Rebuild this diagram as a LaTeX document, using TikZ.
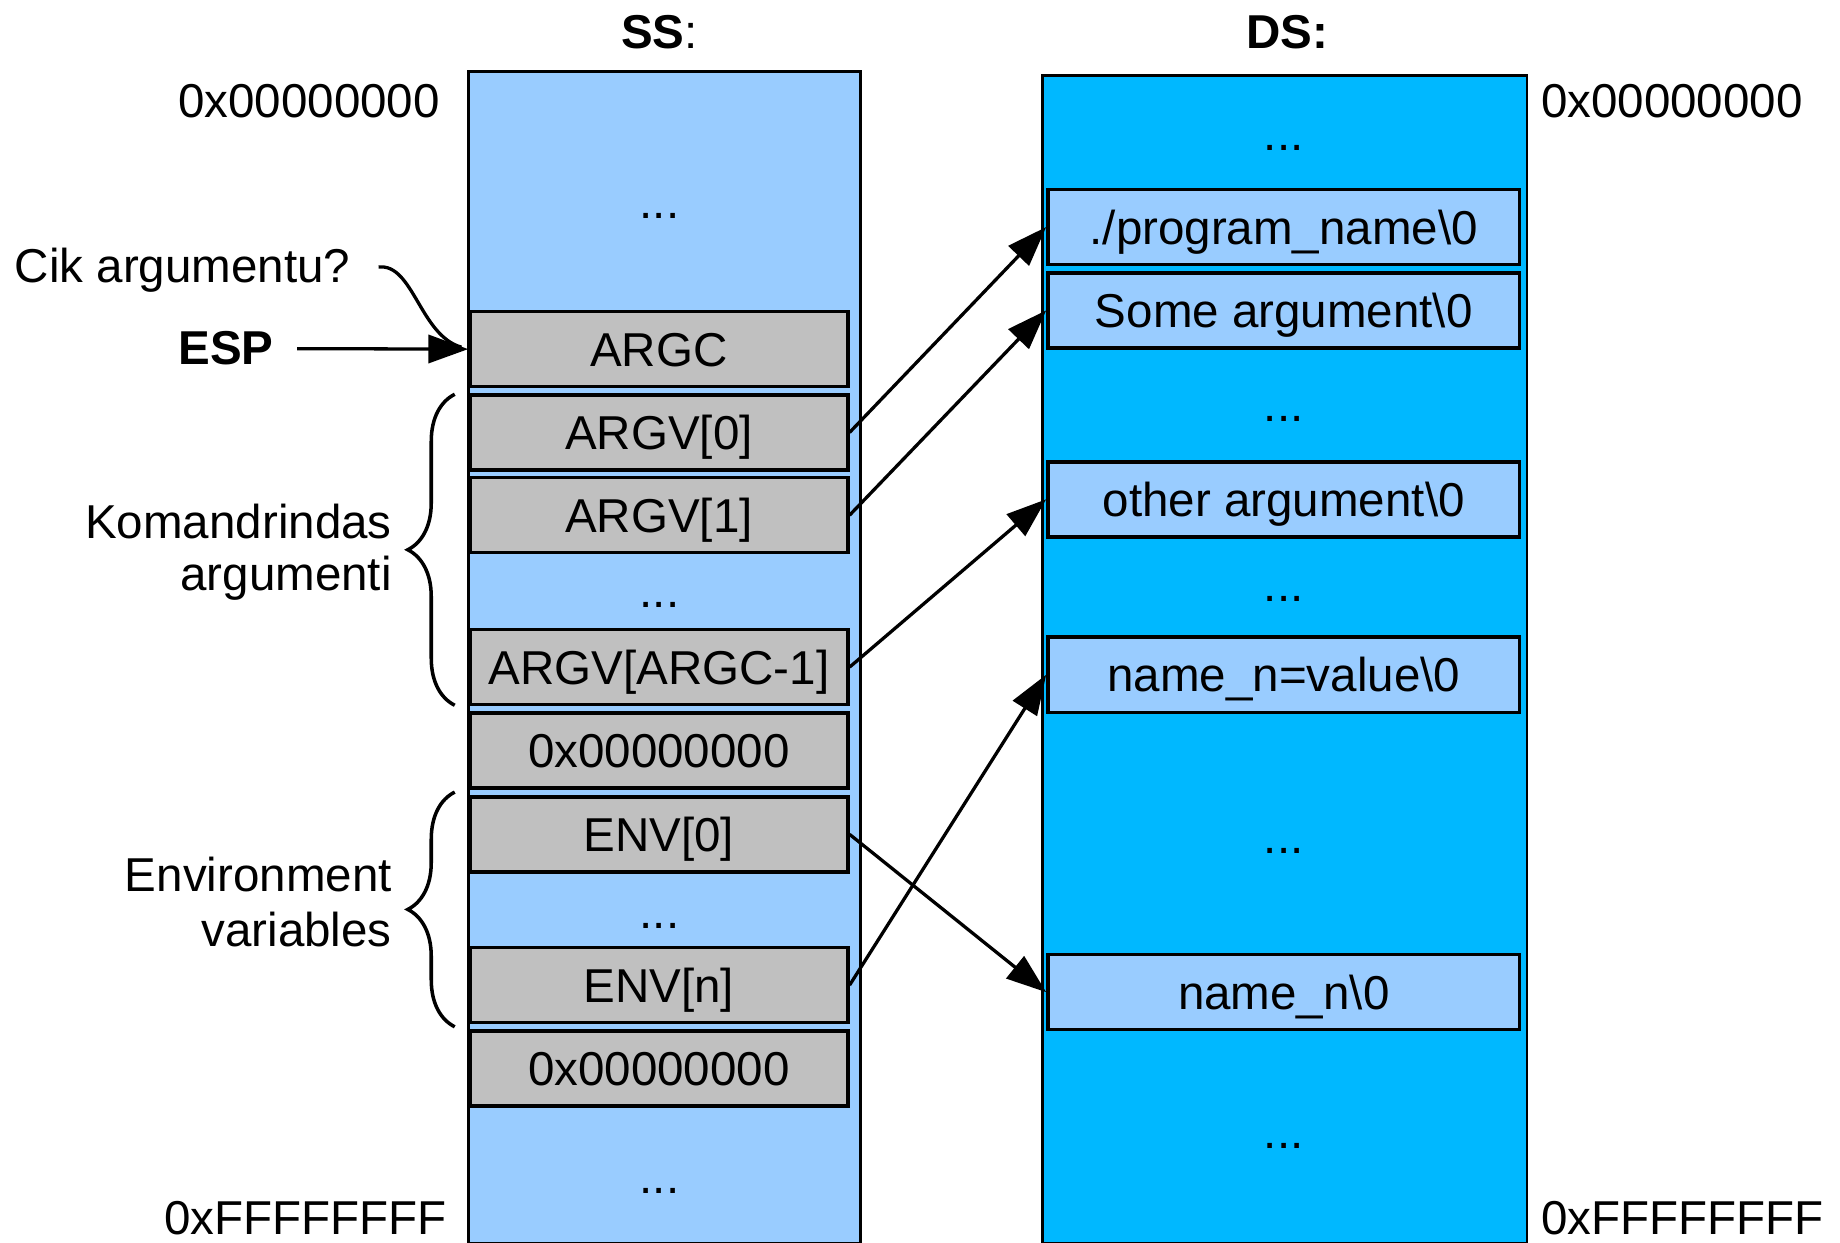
\documentclass[tikz,border=0pt]{standalone}
\usepackage{fontspec}
\setmainfont{Liberation Sans}
\usetikzlibrary{arrows.meta,decorations.pathreplacing}
\definecolor{sslight}{HTML}{99CCFF}
\definecolor{dsblue}{HTML}{00B8FF}
\definecolor{cellgray}{HTML}{C0C0C0}
\tikzset{
  lbl/.style={font=\fontsize{40.5pt}{46pt}\selectfont, inner sep=0pt},
  column/.style={draw, line width=2.5pt, inner sep=0pt, anchor=north west},
  cell/.style={lbl, draw, line width=3pt, text height=29pt, text depth=0pt},
  sscell/.style={cell, fill=cellgray, minimum width=322pt, minimum height=64pt},
  dscell/.style={cell, fill=sslight, minimum width=402pt, minimum height=64pt},
  dotlbl/.style={lbl, anchor=base},
  ptr/.style={line width=2.8pt, -{Triangle[length=34pt,width=24pt]}},
  brc/.style={decorate, decoration={brace, amplitude=40pt}, line width=3pt},
}
\begin{document}
\begin{tikzpicture}[x=1pt,y=-1pt]
\useasboundingbox (0,0) rectangle (1568,1059);
% columns
\node[column, fill=sslight, minimum width=334pt, minimum height=998pt] (sscol) at (398,60) {};
\node[column, fill=dsblue, minimum width=413pt, minimum height=995pt] (dscol) at (887,63) {};
% titles
\node[lbl, anchor=base] (sstitle) at (562,41) {{\bfseries SS}:};
\node[lbl, anchor=base] (dstitle) at (1097,41) {\bfseries DS:};
% addresses
\node[lbl, anchor=base east] (ssstart) at (375,100) {0x00000000};
\node[lbl, anchor=base west] (dsstart) at (1313,100) {0x00000000};
\node[lbl, anchor=base east] (ssend) at (381,1052) {0xFFFFFFFF};
\node[lbl, anchor=base west] (dsend) at (1313,1052) {0xFFFFFFFF};
% SS cells
\node[sscell] (argc) at (561.5,297.5) {ARGC};
\node[sscell] (argv0) at (561.5,368.5) {ARGV[0]};
\node[sscell] (argv1) at (561.5,439) {ARGV[1]};
\node[sscell] (argvn) at (561.5,568.5) {ARGV[ARGC-1]};
\node[sscell] (nulla) at (561.5,639.5) {0x00000000};
\node[sscell] (env0) at (561.5,711) {ENV[0]};
\node[sscell] (envn) at (561.5,839.5) {ENV[n]};
\node[sscell] (nullb) at (561.5,910.5) {0x00000000};
\node[dotlbl] (ssdots1) at (562,186) {...};
\node[dotlbl] (ssdots2) at (562,518) {...};
\node[dotlbl] (ssdots3) at (562,791) {...};
\node[dotlbl] (ssdots4) at (562,1017) {...};
% DS cells
\node[dscell] (prog) at (1094,193.5) {./program\_name\textbackslash 0};
\node[dscell] (some) at (1094,264.5) {Some argument\textbackslash 0};
\node[dscell] (other) at (1094,425.5) {other argument\textbackslash 0};
\node[dscell] (nameval) at (1094,575) {name\_n=value\textbackslash 0};
\node[dscell] (namen) at (1094,845.5) {name\_n\textbackslash 0};
\node[dotlbl] (dsdots1) at (1094,128) {...};
\node[dotlbl] (dsdots2) at (1094,359) {...};
\node[dotlbl] (dsdots3) at (1094,513) {...};
\node[dotlbl] (dsdots4) at (1094,727) {...};
\node[dotlbl] (dsdots5) at (1094,979) {...};
% pointers
\draw[ptr] (argv0.east) -- (prog.west);
\draw[ptr] (argv1.east) -- (some.west);
\draw[ptr] (argvn.east) -- (other.west);
\draw[ptr] (env0.east) -- (namen.west);
\draw[ptr] (envn.east) -- (nameval.west);
% ESP and question
\node[lbl, anchor=base] (esp) at (192.5,311) {\bfseries ESP};
\node[lbl, anchor=base west] (cik) at (12.5,241) {Cik argumentu?};
\draw[line width=2.8pt, shorten <=24pt, shorten >=6pt] (cik.east) .. controls (352,224) and (358,286) .. (argc.west);
\draw[ptr, shorten <=20pt] (esp.east) -- (argc.west);
% braces
\draw[brc] (387.5,601) -- (387.5,336);
\draw[brc] (387.5,875) -- (387.5,675);
\node[lbl, anchor=base east] (kom1) at (334,459) {Komandrindas};
\node[lbl, anchor=base east] (kom2) at (334,503.5) {argumenti};
\node[lbl, anchor=base east] (envl1) at (334,760) {Environment};
\node[lbl, anchor=base east] (envl2) at (334,807) {variables};
\end{tikzpicture}
\end{document}
